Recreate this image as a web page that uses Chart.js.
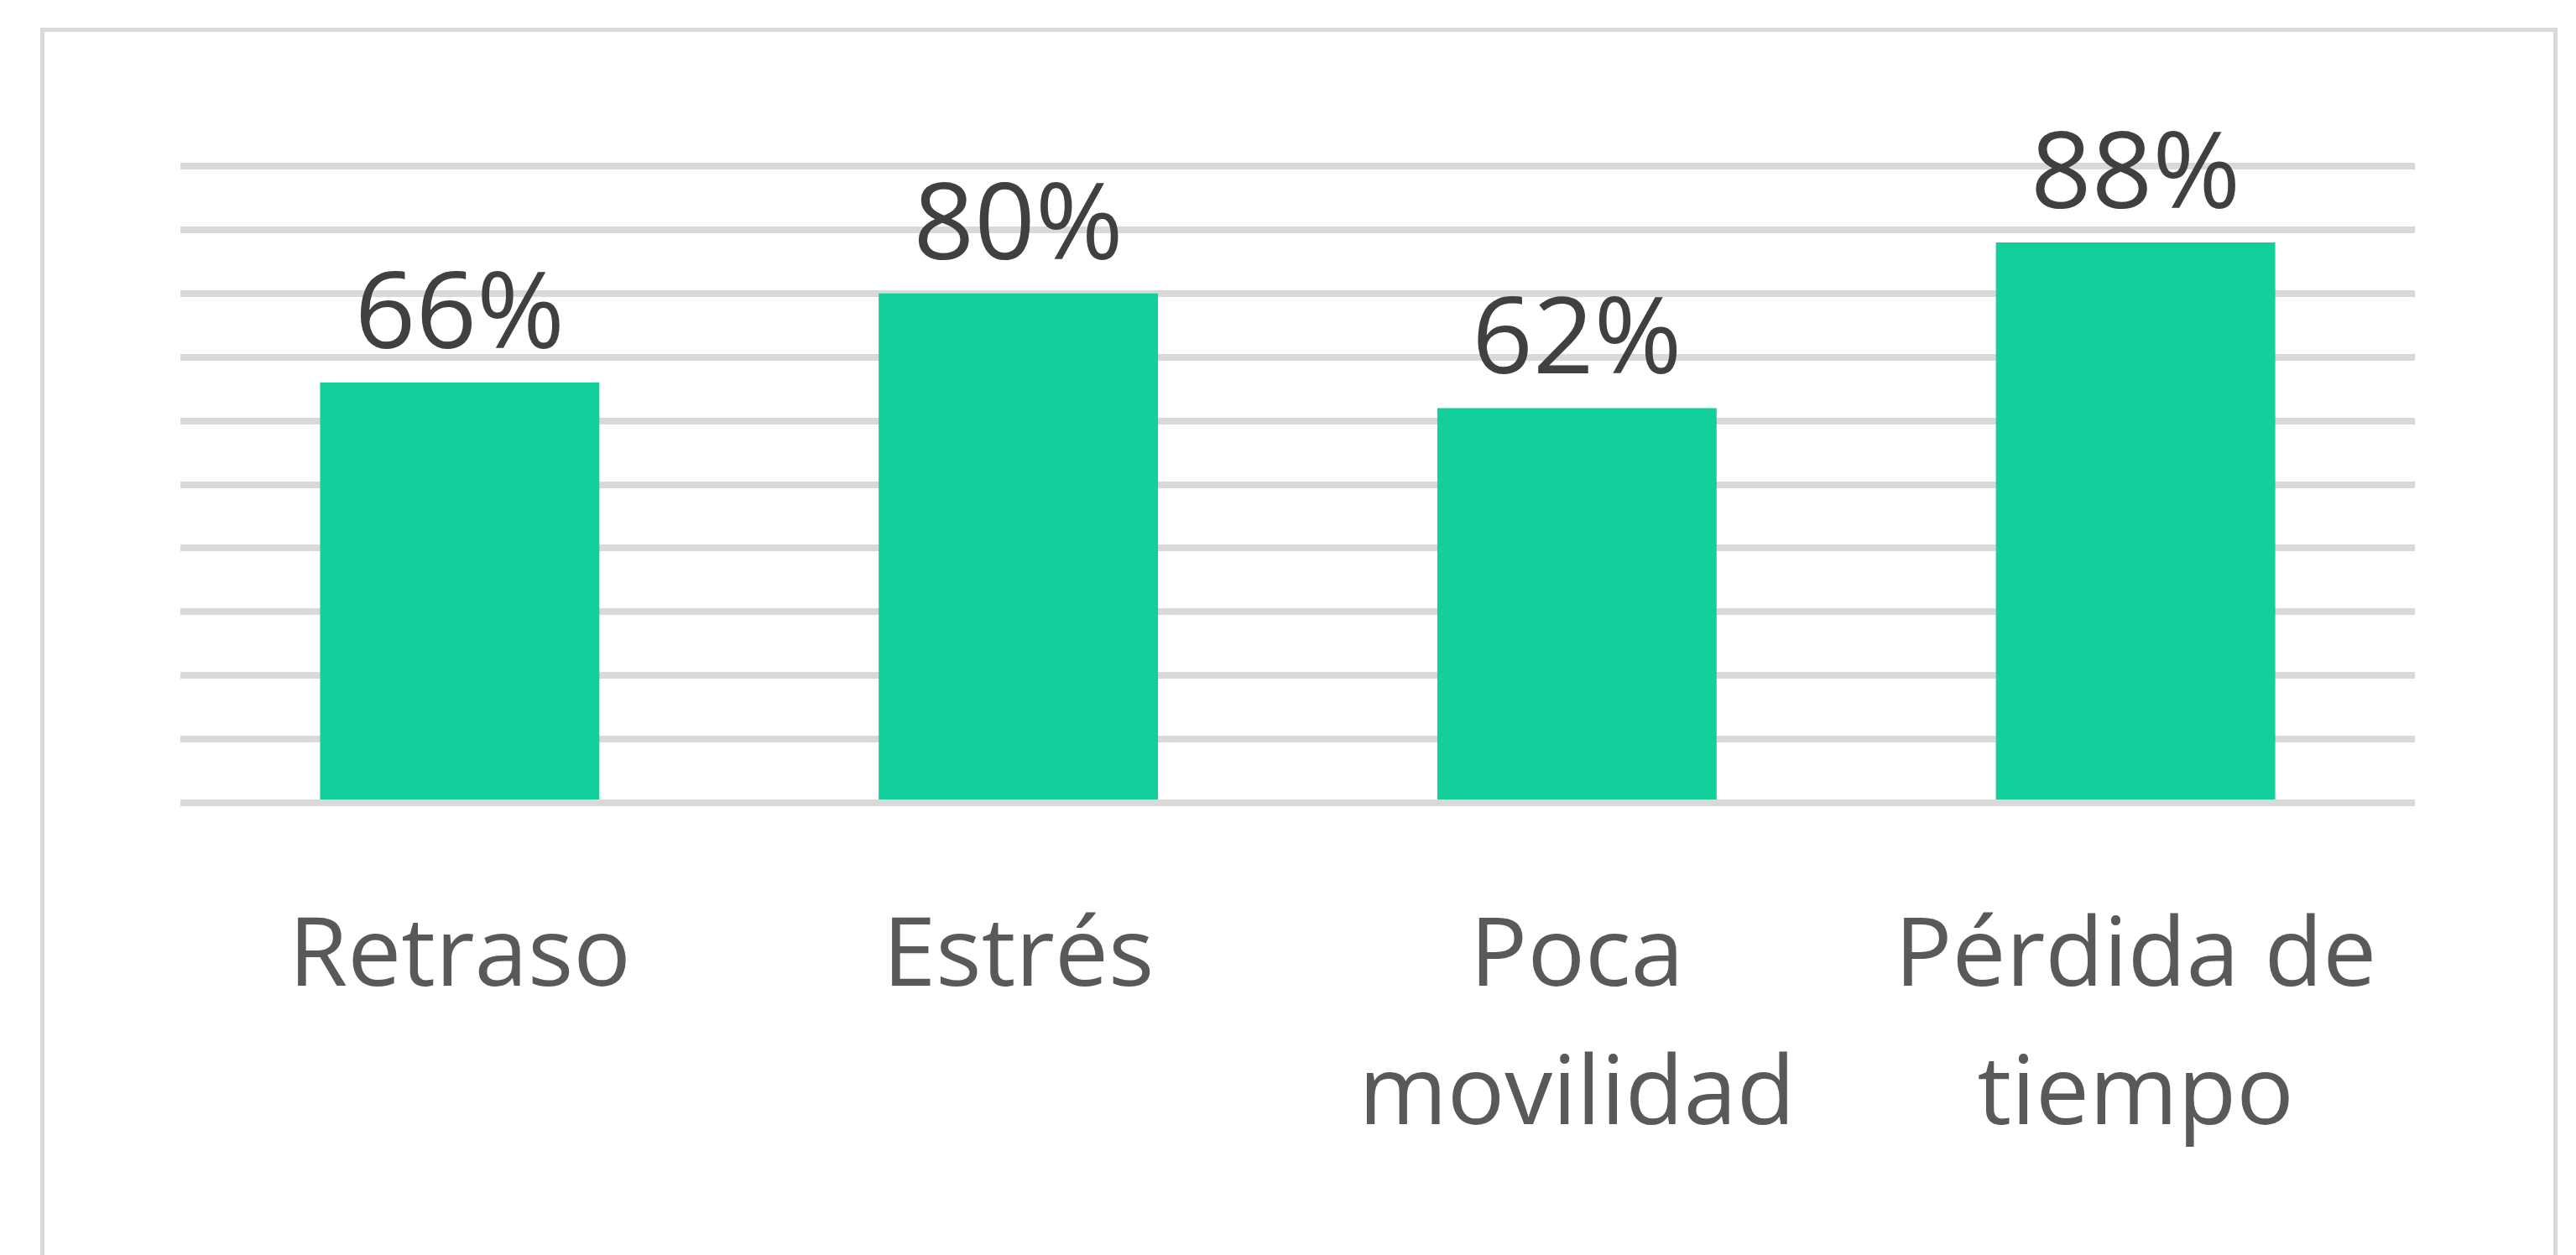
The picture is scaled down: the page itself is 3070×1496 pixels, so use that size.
<!DOCTYPE html>
<html lang="es">
<head>
<meta charset="utf-8">
<title>Problemas</title>
<script src="https://cdn.jsdelivr.net/npm/chart.js@4.4.1/dist/chart.umd.min.js"></script>
<style>
  html, body { margin: 0; padding: 0; background: #ffffff; }
  #chart { display: block; }
</style>
</head>
<body>
<canvas id="chart" width="3070" height="1496"></canvas>
<script>
// 데이터
const categories = ["Retraso", "Estrés", ["Poca", "movilidad"], ["Pérdida de", "tiempo"]];
const percentValues = [66, 80, 62, 88];
const yTicks = [0, 10, 20, 30, 40, 50, 60, 70, 80, 90, 100];

const barColor = "#12CF9C";
const gridColor = "#D9D9D9";

// 바깥 테두리
const frameBorder = {
  id: "frameBorder",
  beforeDraw(chart) {
    const ctx = chart.ctx;
    ctx.save();
    ctx.strokeStyle = gridColor;
    ctx.lineWidth = 5;
    ctx.strokeRect(50.5, 35.5, 2995, 1600);
    ctx.restore();
  },
};

// 막대 위 값 표시
const valueLabels = {
  id: "valueLabels",
  afterDatasetsDraw(chart) {
    const ctx = chart.ctx;
    const meta = chart.getDatasetMeta(0);
    ctx.save();
    ctx.fillStyle = "#404040";
    ctx.font = "127px 'Open Sans'";
    ctx.textAlign = "center";
    ctx.textBaseline = "alphabetic";
    meta.data.forEach((bar, i) => {
      ctx.fillText(percentValues[i] + "%", bar.x, bar.y - 41);
    });
    ctx.restore();
  },
};

new Chart(document.getElementById("chart"), {
  type: "bar",
  data: {
    labels: categories,
    datasets: [
      {
        data: percentValues,
        backgroundColor: barColor,
        borderWidth: 0,
        barPercentage: 1,
        categoryPercentage: 0.5,
      },
    ],
  },
  options: {
    responsive: false,
    animation: false,
    devicePixelRatio: 1,
    layout: {
      padding: { left: 215, right: 192, top: 198, bottom: 0 },
    },
    plugins: {
      legend: { display: false },
      tooltip: { enabled: false },
    },
    scales: {
      x: {
        grid: { display: false },
        border: { display: false },
        ticks: {
          color: "#595959",
          font: { family: "'Open Sans'", size: 114, lineHeight: 1.45 },
          padding: 95,
          autoSkip: false,
          minRotation: 0,
          maxRotation: 0,
        },
        afterFit(axis) {
          axis.height = 1496 - 957;
        },
      },
      y: {
        min: 0,
        max: 100,
        afterBuildTicks(axis) {
          axis.ticks = yTicks.map((v) => ({ value: v }));
        },
        grid: { color: gridColor, lineWidth: 8, drawTicks: false },
        border: { display: false },
        ticks: { display: false },
        afterFit(axis) {
          axis.width = 0;
        },
      },
    },
  },
  plugins: [frameBorder, valueLabels],
});
</script>
</body>
</html>
